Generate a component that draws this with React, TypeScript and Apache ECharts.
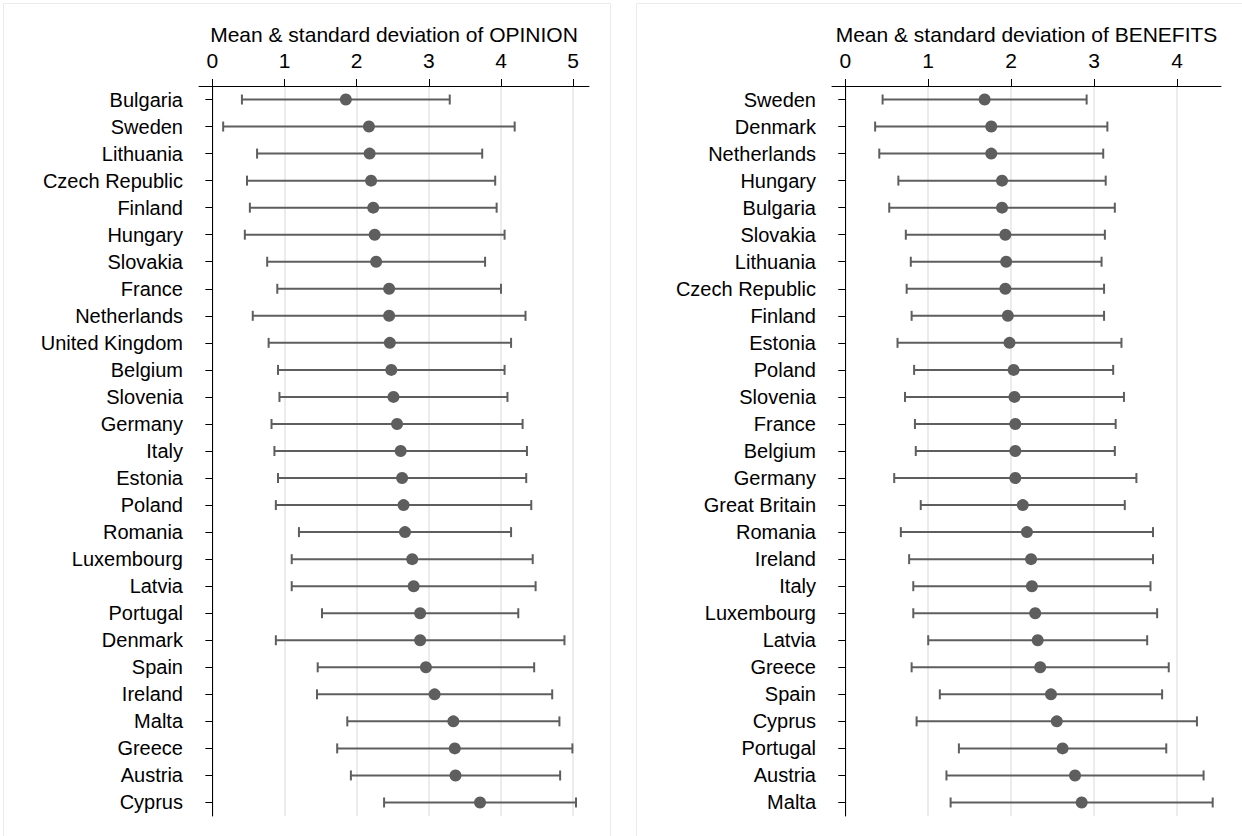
import React, { useEffect, useRef } from "react";
import * as echarts from "echarts";

const opinionCountries = [
  "Bulgaria", "Sweden", "Lithuania", "Czech Republic", "Finland", "Hungary", "Slovakia",
  "France", "Netherlands", "United Kingdom", "Belgium", "Slovenia", "Germany", "Italy",
  "Estonia", "Poland", "Romania", "Luxembourg", "Latvia", "Portugal", "Denmark", "Spain",
  "Ireland", "Malta", "Greece", "Austria", "Cyprus",
];
const opinionMean = [
  1.85, 2.17, 2.18, 2.2, 2.23, 2.25, 2.27, 2.45, 2.45, 2.46, 2.48, 2.51, 2.56, 2.61,
  2.63, 2.65, 2.67, 2.77, 2.79, 2.88, 2.88, 2.96, 3.08, 3.34, 3.36, 3.37, 3.71,
];
const opinionSD = [
  1.44, 2.02, 1.56, 1.72, 1.71, 1.8, 1.51, 1.55, 1.89, 1.68, 1.57, 1.58, 1.74, 1.75,
  1.72, 1.77, 1.47, 1.67, 1.69, 1.36, 2.0, 1.5, 1.63, 1.47, 1.63, 1.45, 1.33,
];

const benefitsCountries = [
  "Sweden", "Denmark", "Netherlands", "Hungary", "Bulgaria", "Slovakia", "Lithuania",
  "Czech Republic", "Finland", "Estonia", "Poland", "Slovenia", "France", "Belgium",
  "Germany", "Great Britain", "Romania", "Ireland", "Italy", "Luxembourg", "Latvia",
  "Greece", "Spain", "Cyprus", "Portugal", "Austria", "Malta",
];
const benefitsMean = [
  1.68, 1.76, 1.76, 1.89, 1.89, 1.93, 1.94, 1.93, 1.96, 1.98, 2.03, 2.04, 2.05, 2.05,
  2.05, 2.14, 2.19, 2.24, 2.25, 2.29, 2.32, 2.35, 2.48, 2.55, 2.62, 2.77, 2.85,
];
const benefitsSD = [
  1.23, 1.4, 1.35, 1.25, 1.36, 1.2, 1.15, 1.19, 1.16, 1.35, 1.2, 1.32, 1.21, 1.2,
  1.46, 1.23, 1.52, 1.47, 1.43, 1.47, 1.32, 1.55, 1.34, 1.69, 1.25, 1.55, 1.58,
];

const opinionTicks = [0, 1, 2, 3, 4, 5];
const benefitsTicks = [0, 1, 2, 3, 4];

const FONT = "'Liberation Sans', Arial, sans-serif";
const INK = "#5e5e5e";

function errRender(params: any, api: any) {
  const m = api.value(0);
  const s = api.value(1);
  const idx = api.value(2);
  const p1 = api.coord([m - s, idx]);
  const p2 = api.coord([m + s, idx]);
  const h = 5;
  const style = { stroke: INK, lineWidth: 2 };
  return {
    type: "group",
    children: [
      { type: "line", shape: { x1: p1[0], y1: p1[1], x2: p2[0], y2: p2[1] }, style },
      { type: "line", shape: { x1: p1[0], y1: p1[1] - h, x2: p1[0], y2: p1[1] + h }, style },
      { type: "line", shape: { x1: p2[0], y1: p2[1] - h, x2: p2[0], y2: p2[1] + h }, style },
    ],
  };
}

export default function App() {
  const ref = useRef<HTMLDivElement>(null);
  useEffect(() => {
    document.body.style.margin = "0";
    const chart = echarts.init(ref.current!, null, { renderer: "svg" });

    const makeX = (gi: number, name: string, ticks: number[], min: number, max: number) => ({
      type: "value",
      gridIndex: gi,
      position: "top",
      min,
      max,
      name,
      nameLocation: "middle",
      nameGap: 34,
      nameTextStyle: { fontFamily: FONT, fontSize: 21, color: "#000" },
      axisLine: { show: true, lineStyle: { color: "#000", width: 1 } },
      axisTick: { show: true, customValues: ticks, length: 7, lineStyle: { color: "#000" } },
      axisLabel: { customValues: ticks, fontFamily: FONT, fontSize: 21, color: "#000", margin: 15 },
      splitLine: { show: false },
    });
    const makeY = (gi: number, cats: string[]) => ({
      type: "category",
      gridIndex: gi,
      data: cats,
      inverse: true,
      axisLine: { show: true, lineStyle: { color: "#000", width: 1 } },
      axisTick: { show: true, alignWithLabel: true, length: 7, lineStyle: { color: "#000" } },
      axisLabel: { fontFamily: FONT, fontSize: 20, color: "#000", margin: 16 },
      splitLine: { show: false },
    });
    const gridLines = (xi: number, ticks: number[]) => ({
      type: "scatter",
      xAxisIndex: xi,
      yAxisIndex: xi,
      data: [],
      silent: true,
      z: 0,
      markLine: {
        silent: true,
        z: 0,
        symbol: "none",
        label: { show: false },
        lineStyle: { color: "#e6e6e6", width: 1.5, type: "solid" },
        data: ticks.map((t) => ({ xAxis: t })),
      },
    });
    const errSeries = (xi: number, mean: number[], sd: number[]) => ({
      type: "custom",
      xAxisIndex: xi,
      yAxisIndex: xi,
      z: 10,
      renderItem: errRender,
      encode: { x: [0, 1], y: 2 },
      data: mean.map((m, i) => [m, sd[i], i]),
    });
    const dotSeries = (xi: number, mean: number[]) => ({
      type: "scatter",
      xAxisIndex: xi,
      yAxisIndex: xi,
      z: 11,
      symbol: "circle",
      symbolSize: 12,
      itemStyle: { color: INK, opacity: 1 },
      data: mean.map((m, i) => [m, i]),
    });

    chart.setOption({
      animation: false,
      backgroundColor: "#fff",
      grid: [
        { left: 199, right: 1242 - 589, top: 86, bottom: 20 },
        { left: 832, right: 1242 - 1221, top: 86, bottom: 20 },
      ],
      xAxis: [
        makeX(0, "Mean & standard deviation of OPINION", opinionTicks, -0.185, 5.22),
        makeX(1, "Mean & standard deviation of BENEFITS", benefitsTicks, -0.16, 4.53),
      ],
      yAxis: [makeY(0, opinionCountries), makeY(1, benefitsCountries)],
      graphic: [
        { type: "rect", shape: { x: 3.5, y: 3.5, width: 607, height: 900 }, style: { fill: "none", stroke: "#ebebeb", lineWidth: 1 }, z: -1 },
        { type: "rect", shape: { x: 636.5, y: 3.5, width: 620, height: 900 }, style: { fill: "none", stroke: "#ebebeb", lineWidth: 1 }, z: -1 },
      ],
      series: [
        gridLines(0, opinionTicks),
        gridLines(1, benefitsTicks),
        errSeries(0, opinionMean, opinionSD),
        dotSeries(0, opinionMean),
        errSeries(1, benefitsMean, benefitsSD),
        dotSeries(1, benefitsMean),
      ],
    });
    return () => chart.dispose();
  }, []);
  return <div ref={ref} style={{ width: 1242, height: 836 }} />;
}
